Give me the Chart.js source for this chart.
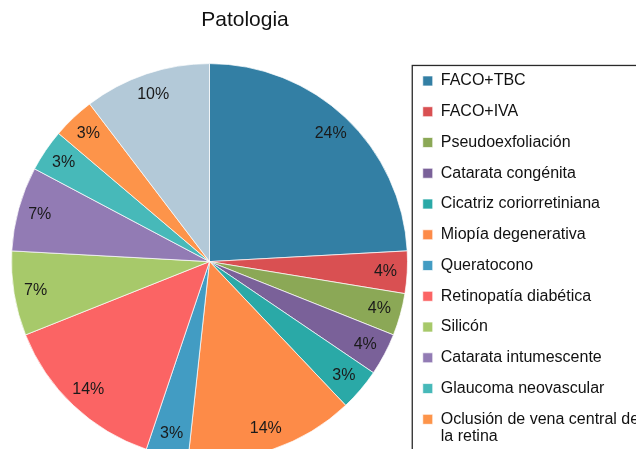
<!DOCTYPE html>
<html>
<head>
<meta charset="utf-8">
<script src="https://cdn.jsdelivr.net/npm/chart.js@4/dist/chart.umd.min.js"></script>
<style>
  html, body { margin: 0; padding: 0; background: #fff; overflow: hidden; }
  #wrap { position: absolute; left: 0; top: 0; }
</style>
</head>
<body>
<div id="wrap"><canvas id="mycanvas" width="700" height="465"></canvas></div>
<script>
// data (counts per pathology)
var categories = [
  'FACO+TBC', 'FACO+IVA', 'Pseudoexfoliación', 'Catarata congénita',
  'Cicatriz coriorretiniana', 'Miopía degenerativa', 'Queratocono',
  'Retinopatía diabética', 'Silicón', 'Catarata intumescente',
  'Glaucoma neovascular', ['Oclusión de vena central de', 'la retina'], 'Otros'
];
var counts = [7, 1, 1, 1, 1, 4, 1, 4, 2, 2, 1, 1, 3];
var colors = [
  '#337fa4', '#d95052', '#8ba856', '#7a6199', '#2aa9a7', '#fd8b48', '#429cc3',
  '#fb6464', '#a7c96a', '#927bb4', '#47b9b9', '#fd944a', '#b3c9d8'
];

// whole percents that add up to 100 (largest remainder)
function percentLabels(vals){
  var total = vals.reduce(function(a, b){ return a + b; }, 0);
  var raw = vals.map(function(v){ return v * 100 / total; });
  var out = raw.map(Math.floor);
  var left = 100 - out.reduce(function(a, b){ return a + b; }, 0);
  var order = raw.map(function(r, i){ return i; }).sort(function(a, b){
    var d = (raw[b] - out[b]) - (raw[a] - out[a]);
    return Math.abs(d) < 1e-9 ? a - b : d;
  });
  for (var k = 0; k < left; k++) out[order[k]]++;
  return out.map(function(p){ return p + '%'; });
}
var pctText = percentLabels(counts);

var sliceLabels = {
  id: 'sliceLabels',
  afterDatasetsDraw: function(chart){
    var ctx = chart.ctx;
    var arcs = chart.getDatasetMeta(0).data;
    ctx.save();
    ctx.font = '16px "Liberation Sans", Arial, sans-serif';
    ctx.fillStyle = '#1a1a1a';
    ctx.textAlign = 'center';
    ctx.textBaseline = 'middle';
    arcs.forEach(function(arc, i){
      var p = arc.getProps(['x', 'y', 'startAngle', 'endAngle', 'outerRadius'], true);
      var mid = (p.startAngle + p.endAngle) / 2;
      var r = p.outerRadius * 0.89;
      ctx.fillText(pctText[i], p.x + Math.cos(mid) * r, p.y + Math.sin(mid) * r);
    });
    ctx.restore();
  }
};

// legend keeps a narrow slot in the layout (so the title sits where it does
// in the original) but is allowed to draw its text past that slot
var legendBox = {
  id: 'legendBox',
  afterLayout: function(chart){
    var lg = chart.legend;
    if (!lg) return;
    lg.width = 400;
    lg.right = lg.left + 400;
  },
  afterDraw: function(chart){
    var lg = chart.legend;
    if (!lg || !lg.legendHitBoxes || !lg.legendHitBoxes.length) return;
    var hb = lg.legendHitBoxes[0];
    var ctx = chart.ctx;
    ctx.save();
    ctx.strokeStyle = '#2a2a2a';
    ctx.lineWidth = 1.3;
    ctx.strokeRect(hb.left - 10.5, hb.top - 7.5, 600, 600);
    ctx.restore();
  }
};

var chartdata = {
  labels: categories,
  datasets: [{
    data: counts,
    backgroundColor: colors,
    borderColor: 'rgba(255,255,255,0.7)',
    borderWidth: 1
  }]
};

var ctx = document.getElementById('mycanvas');
var pieGraph = new Chart(ctx, {
  type: 'pie',
  data: chartdata,
  plugins: [sliceLabels, legendBox],
  options: {
    responsive: false,
    animation: false,
    layout: { padding: { left: 11, right: 221, top: 0, bottom: 0 } },
    plugins: {
      title: {
        display: true,
        text: 'Patologia',
        color: '#111',
        font: { family: '"Liberation Sans", Arial, sans-serif', size: 21, weight: 'normal' },
        padding: { top: 8, bottom: 25 }
      },
      legend: {
        position: 'right',
        align: 'start',
        fullSize: false,
        maxWidth: 71,
        labels: {
          boxWidth: 10,
          boxHeight: 10,
          padding: 14.76,
          color: '#111',
          font: { family: '"Liberation Sans", Arial, sans-serif', size: 16, lineHeight: 1.1 }
        }
      },
      tooltip: { enabled: false }
    }
  }
});
</script>
</body>
</html>
